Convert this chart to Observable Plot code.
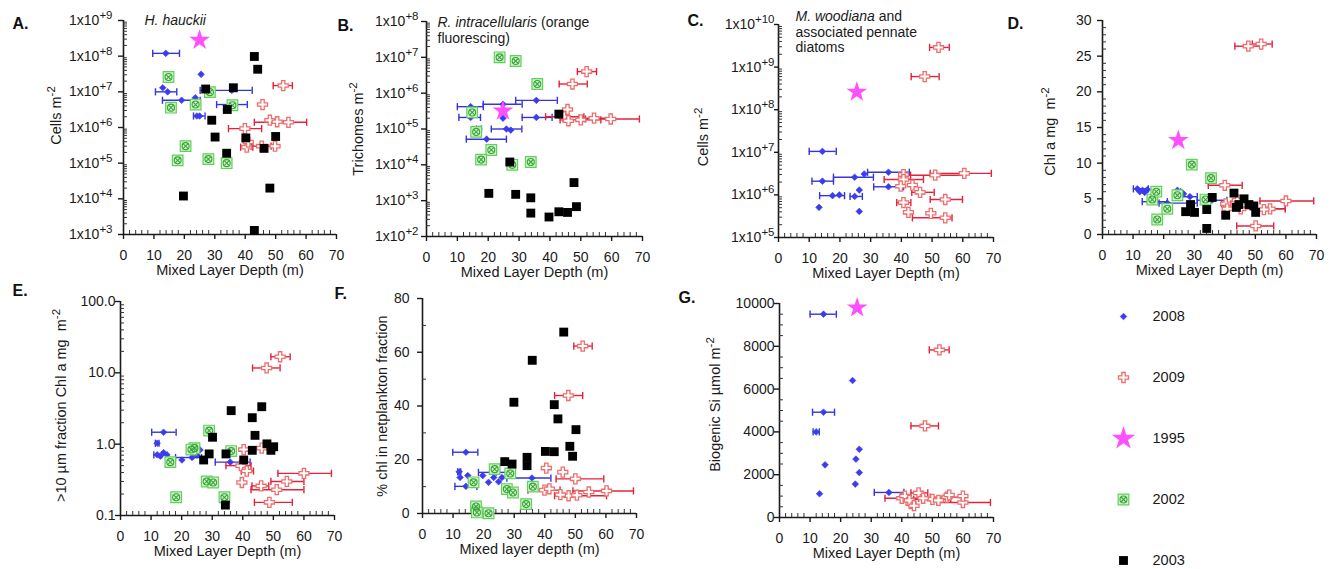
<!DOCTYPE html>
<html><head><meta charset="utf-8">
<script src="https://cdn.jsdelivr.net/npm/d3@7"></script>
<script src="https://cdn.jsdelivr.net/npm/@observablehq/plot@0.6"></script>
<style>
body{margin:0;background:#fff;}
#root{position:relative;width:1334px;height:569px;overflow:hidden;background:#fff;font-family:"Liberation Sans",Arial,sans-serif;}
#root svg{position:absolute;}
</style></head>
<body><div id="root"></div>
<script>
// ---------------- DATA: [mixed layer depth, value, MLD low, MLD high] ----------------
const YEARS = ["2008", "2009", "1995", "2002", "2003"];
const xTicks = [0, 10, 20, 30, 40, 50, 60, 70];
const xMinor = [2, 4, 6, 8, 12, 14, 16, 18, 22, 24, 26, 28, 32, 34, 36, 38, 42, 44, 46, 48, 52, 54, 56, 58, 62, 64, 66, 68];

// A. H. hauckii (cells m-2)
const A2008 = [[13.9,1.2e8,9.6,18.4],[25.5,3.1e7],[12.9,1.3e7],[14.5,1.0e7,10.5,17.5],[35.6,1.1e7,25.2,42.3],[23.6,6.8e6],[19.1,5.8e6,12.8,25.2],[35.7,4.4e6,30.6,40.7],[24.1,2.1e6,23.0,26.8],[25.0,2.1e6]];
const A2009 = [[52.5,1.5e7,49.2,55.5],[45.7,4.4e6],[39.9,9.3e5,34.5,45.4],[54.2,1.4e6,43.0,60.2],[48.1,1.6e6],[50.5,1.45e6],[40.5,2.8e5,38.5,42.5],[45.4,3.0e5,42.0,48.5],[49.8,3.0e5],[41.0,3.9e5]];
const A1995 = [[25,2.8e8]];
const A2002 = [[14.8,2.6e7],[28.4,9.8e6],[15.6,3.6e6],[23.7,4.4e6],[35.8,4.2e6],[20.4,3.0e5],[17.8,1.2e5],[27.9,1.3e5],[33.9,1.0e5]];
const A2003 = [[43,9.8e7],[44.1,4.3e7],[27,1.2e7],[36.1,1.3e7],[34.1,3.2e6],[29,1.6e6],[30.1,5.4e5],[40.2,5.1e5],[50,5.6e5],[46.2,2.6e5],[33.9,1.9e5],[19.7,1.2e4],[48.1,2.0e4],[43,1.3e3]];

// B. R. intracellularis (trichomes m-2)
const B2008 = [[14.3,4.2e5,10,18.4],[35.6,6.3e5,28.9,42.4],[35.6,2.1e5,31,40.7],[14.3,2.1e5,10.5,17.5],[24.8,2.0e5],[24.8,4.9e5,18.4,31],[17,1.0e5,16.2,17.8],[25.9,1.0e5,21,30.9],[27.3,9.3e4],[19.5,5.2e4,12.9,25.9]];
const B2009 = [[51.9,4.0e6,48.9,55.1],[47.3,1.8e6,43,52.1],[45.7,3.5e5],[44.6,2.2e5,38.6,51],[50,1.8e5,43.3,56.5],[54.3,2.0e5,49.5,60],[59.7,1.9e5,51.5,69],[46,1.7e5]];
const B1995 = [[24.8,3.2e5]];
const B2002 = [[23.7,1.0e7],[28.9,7.9e6],[35.9,1.8e6],[14.8,2.9e5],[16.1,8.3e4],[21,2.6e4],[17.7,1.4e4],[33.8,1.2e4],[27.8,1.0e4]];
const B2003 = [[27,1.2e4],[42.9,2.6e5],[47.8,3.2e3],[20.2,1.6e3],[28.9,1.5e3],[33.8,1.2e3],[33.8,450],[39.7,350],[42.9,490],[45.7,470],[48.6,680]];

// C. M. woodiana and associated pennate diatoms (cells m-2)
const C2008 = [[14.3,1.05e7,10,18.8],[14.3,2.1e6,10.9,17.9],[24.8,2.6e6,17.9,30.9],[35.8,3.4e6,29,42.6],[27.9,3.1e6],[35.8,1.55e6,31,40.7],[17.6,9.6e5,13.4,21.5],[19.8,1.0e6],[24.8,9.2e5,23.3,27.3],[26.3,1.3e6],[13.2,5.1e5],[26.3,4.1e5]];
const C2009 = [[52.1,2.9e9,49.2,55.6],[47.6,6.0e8,43.2,52.3],[60.5,3.2e6,49.4,69.3],[51,2.9e6,43,60],[40.7,3.0e6],[40.7,2.3e6,34.4,47.2],[43.6,1.7e6],[46.1,1.15e6,43.4,50.7],[39.8,1.6e6],[40.7,6.6e5,38.5,43.1],[54.3,7.8e5,49.4,59.9],[42.3,3.9e5],[49.6,3.7e5],[54.3,2.9e5,43.6,56.5]];
const C1995 = [[25.5,2.6e8]];

// D. Chl a (mg m-2)
const D2008 = [[11.4,6.4,10.1,15],[12.2,6.0],[13.1,6.2],[13.8,5.9],[14.7,6.3],[24.5,6.2],[25.6,6.0],[26.5,5.7],[28.6,5.3,25.5,31],[16.9,4.6,13,21.2],[21.2,4.4,18.5,31],[35.8,4.8,31,40.7]];
const D2009 = [[51.9,26.7,49,55.5],[47.7,26.4,43.3,52],[40,6.9,34.6,45.7],[60,4.7,51.5,69.1],[54.8,3.6,49.3,59.8],[50.1,1.2,43.9,56],[40.3,4.3,39,42],[44.1,4.8],[45.2,3.6,39.7,59.8],[40.8,3.6],[52.8,3.5]];
const D1995 = [[24.8,13.2]];
const D2002 = [[29.2,9.8],[35.5,7.9],[16.3,4.9],[17.6,6.0],[21.2,3.6],[17.9,2.1],[24.5,5.5],[33.7,4.9]];
const D2003 = [[35.9,5.2],[43,5.8],[46.3,5.0],[44.6,4.2],[43.8,3.8],[47.9,4.2],[49.5,4.0],[50.1,3.1],[40.3,2.7],[34.1,3.5],[28.8,4.2],[30.1,3.1],[27.2,3.2],[34.1,0.85]];

// E. >10 um fraction Chl a (mg m-2)
const E2008 = [[14.1,1.47,10.2,18.2],[12,1.03,11.4,12.6],[12,0.71,10.9,13.5],[14.1,0.76],[15.2,0.71],[13,0.68],[20.1,0.6],[23.4,0.65,18,26.5],[25,0.70],[26,0.83],[35.9,0.56,31,42.4]];
const E2009 = [[52.2,16.8,49.2,55.5],[47.8,11.7,43.2,52.2],[40.3,0.84],[46.2,0.88],[39.4,0.50,34.5,42.7],[41.3,0.42,39.5,43.5],[39.7,0.29],[60,0.39,51.5,69],[54.4,0.30,49.2,60],[46,0.26,43,48.5],[51.1,0.23,42.7,60],[48.7,0.153,43.8,56.2]];
const E2002 = [[29,1.55],[24.2,0.88],[23.2,0.84],[16.3,0.56],[36.2,0.80],[28.2,0.30],[30.3,0.29],[18.2,0.18],[34,0.18]];
const E2003 = [[36.2,2.95],[46.2,3.35],[43.1,2.35],[44,1.33],[30.1,1.25],[47.9,1.01],[50.1,0.92],[49.2,0.82],[43.1,0.82],[34.5,0.73],[29,0.73],[27.2,0.60],[40.3,0.60],[34.3,0.14]];

// F. % chl in netplankton fraction
const F2008 = [[14.2,22.8,9.9,18.1],[12,15.5,11.5,12.5],[12.3,13.4],[14.8,14.1],[14.2,10.1,10.6,17.8],[19.7,14.1],[21.6,11.6],[23.3,13.4],[24.9,11.8],[26,13.4],[24.1,15.3,18.3,27.3],[35.8,13.2,27.6,42]];
const F2009 = [[52.4,62.3,49.5,55.5],[47.7,43.9,43.2,52.4],[40.5,16.9],[45.9,15.4],[50,12.9,43.7,59.3],[39.9,8.7,34.5,45],[41.5,9.2],[60.2,8.4,49.2,69],[54.4,8.0],[47.8,6.6,43.2,60.2],[50.5,6.8],[45.1,7.0]];
const F2002 = [[23.6,16.5],[28.7,14.9],[16.7,11.6],[27.6,9.1],[29.6,7.8],[36.1,10],[33.9,3.5],[17.5,2.6],[17.8,0.4],[21.6,0.1]];
const F2003 = [[46.2,67.5],[35.9,57],[29.9,41.4],[43.1,40.5],[44.3,35.2],[50.2,31.2],[40.2,23.1],[43.1,23],[48.2,25],[49.1,21.3],[34.2,20.9],[34.2,17.8],[26.9,19.3],[29.3,18.4]];

// G. Biogenic Si (umol m-2)
const G2008 = [[14.4,9500,10,18.6],[23.9,6400],[14.4,4920,10.8,18],[12,4000,11,13],[26.1,3190],[25,2730],[26.1,2100],[14.9,2460],[24.8,1560],[13.1,1110],[35.8,1170,31,40.7]];
const G2009 = [[52.3,7830,49,55.5],[47.6,4280,43,52],[40,900,34.5,45.5],[60,700,51.5,69],[54.8,950,49.3,59.8],[50,850,43.9,56],[41,1000],[43,650],[45.5,1150,43,48.5],[42.5,800],[47,900],[52,800],[55.5,1050],[60,1000],[44,550]];
const G1995 = [[25.4,9800]];

// ---------------- STYLE ----------------
const STYLE = {
  "2008": {bar: "#3535dd", fill: "#3b3bf0"},
  "2009": {bar: "#e3233a", stroke: "#ee6e6e"},
  "1995": {fill: "#ff50ff"},
  "2002": {fill: "#d2f4cb", stroke: "#63cf5f", inner: "#38a638"},
  "2003": {fill: "#000"}
};
const AXIS = "#1a1a1a";
const capSym = {draw(ctx, size) { const h = Math.sqrt(size / Math.PI); ctx.moveTo(0, -h); ctx.lineTo(0, h); }};

function markerMarks(year, data, ch, starR = 6.5) {
  const s = STYLE[year];
  switch (year) {
    case "2008": return [Plot.dot(data, {...ch, symbol: "diamond2", r: 3, fill: s.fill, stroke: s.fill, strokeWidth: 0.6})];
    case "2009": return [Plot.dot(data, {...ch, symbol: "cross", r: 4.2, fill: "white", stroke: s.stroke, strokeWidth: 1.3})];
    case "1995": return [Plot.dot(data, {...ch, symbol: "star", r: starR, fill: s.fill, stroke: "none"})];
    case "2002": return [
      Plot.dot(data, {...ch, symbol: "square", r: 6, fill: s.fill, stroke: s.stroke, strokeWidth: 1.2}),
      Plot.dot(data, {...ch, symbol: "circle", r: 3.5, fill: "none", stroke: s.inner, strokeWidth: 1.1}),
      Plot.dot(data, {...ch, symbol: "times", r: 2.4, fill: "none", stroke: s.inner, strokeWidth: 1.1})];
    case "2003": return [Plot.dot(data, {...ch, symbol: "square", r: 5, fill: s.fill, stroke: "none"})];
  }
}

function seriesMarks(year, pts) {
  if (!pts || !pts.length) return [];
  const out = [];
  const bars = pts.filter(d => d.length > 2);
  const s = STYLE[year];
  if (bars.length) {
    out.push(Plot.ruleY(bars, {y: d => d[1], x1: d => d[2], x2: d => d[3], stroke: s.bar, strokeWidth: 1.4}));
    out.push(Plot.dot(bars.flatMap(d => [[d[2], d[1]], [d[3], d[1]]]), {x: d => d[0], y: d => d[1], symbol: capSym, r: 3.6, fill: "none", stroke: s.bar, strokeWidth: 1.4}));
  }
  out.push(...markerMarks(year, pts, {x: d => d[0], y: d => d[1]}));
  return out;
}

const SUPDY = 6;
function richify(svg) {
  const ns = "http://www.w3.org/2000/svg";
  svg.querySelectorAll("text, tspan").forEach(el => {
    if (el.children.length) return;
    const s = el.textContent;
    if (!/\^\{|_/.test(s)) return;
    const re = /\^\{([^}]*)\}|_([^_]+)_/g;
    el.textContent = "";
    let last = 0, m, up = 0;
    const add = (txt, attrs) => {
      const t = document.createElementNS(ns, "tspan");
      t.textContent = txt;
      for (const k in attrs) t.setAttribute(k, attrs[k]);
      el.appendChild(t);
    };
    while ((m = re.exec(s))) {
      if (m.index > last) { add(s.slice(last, m.index), up ? {dy: up} : {}); up = 0; }
      if (m[1] !== undefined) { add(m[1], {dy: -SUPDY, "font-size": "11.5px"}); up = SUPDY; }
      else { add(m[2], Object.assign({"font-style": "italic"}, up ? {dy: up} : {})); up = 0; }
      last = re.lastIndex;
    }
    if (last < s.length) add(s.slice(last), up ? {dy: up} : {});
  });
}

const expFmt = d => `1x10^{+${Math.round(Math.log10(d))}}`;
const decades = (a, b) => d3.range(a, b + 1).map(e => Math.pow(10, e));
const logMinor = (a, b) => d3.range(a, b).flatMap(e => d3.range(2, 10).map(k => k * Math.pow(10, e)));

const panels = [
  {letter: "A.", x0: 123, x70: 336, yTop: 20, yBot: 234, yType: "log", yDomain: [1e3, 1e9], yTicks: decades(3, 9), yFmt: expFmt, yMinor: logMinor(3, 9), yGap: 11,
   title: "_H. hauckii_", tDx: 21, tDy: -7, lDx: -111, lDy: 3, ylabel: "Cells m^{-2}", yDx: -67, yDy: -12, xlabel: "Mixed Layer Depth (m)",
   series: {"2008": A2008, "2009": A2009, "2002": A2002, "1995": A1995, "2003": A2003}},
  {letter: "B.", x0: 426, x70: 642, yTop: 21, yBot: 236, yType: "log", yDomain: [1e2, 1e8], yTicks: decades(2, 8), yFmt: expFmt, yMinor: logMinor(2, 8), yGap: 8,
   title: "_R. intracellularis_ (orange\nfluorescing)", tDx: 11, tDy: -6, lDx: -89, lDy: 4, ylabel: "Trichomes m^{-2}", yDx: -68, yDy: 0, xlabel: "Mixed Layer Depth (m)",
   series: {"2008": B2008, "2009": B2009, "2002": B2002, "1995": B1995, "2003": B2003}},
  {letter: "C.", x0: 778, x70: 993, yTop: 24, yBot: 237, yType: "log", yDomain: [1e5, 1e10], yTicks: decades(5, 10), yFmt: expFmt, yMinor: logMinor(5, 10), yGap: 4,
   title: "_M. woodiana_ and\nassociated pennate\ndiatoms", tDx: 17, tDy: -15, lDx: -91, lDy: -4, ylabel: "Cells m^{-2}", yDx: -75, yDy: 6, xlabel: "Mixed Layer Depth (m)",
   series: {"2008": C2008, "2009": C2009, "1995": C1995}},
  {letter: "D.", x0: 1102, x70: 1316, yTop: 20, yBot: 234, yType: "linear", yDomain: [0, 30], yTicks: d3.range(0, 31, 5), yFmt: d => String(d), yMinor: d3.range(1, 30, 1).filter(v => v % 5), yGap: 11,
   title: "", lDx: -95, lDy: 3, ylabel: "Chl a mg  m^{-2}", yDx: -52, yDy: 4, xlabel: "Mixed Layer Depth (m)",
   series: {"2008": D2008, "2009": D2009, "2002": D2002, "1995": D1995, "2003": D2003}},
  {letter: "E.", x0: 120, x70: 334, yTop: 301, yBot: 515, yType: "log", yDomain: [0.1, 100], yTicks: [0.1, 1, 10, 100], yFmt: d => d.toFixed(1), yMinor: logMinor(-1, 2), yGap: 5,
   title: "", lDx: -108, lDy: -11, ylabel: ">10 µm fraction Chl a mg  m^{-2}", yDx: -59, yDy: -3, xlabel: "Mixed Layer Depth (m)",
   series: {"2008": E2008, "2009": E2009, "2002": E2002, "2003": E2003}},
  {letter: "F.", x0: 422, x70: 636, yTop: 298, yBot: 513, yType: "linear", yDomain: [0, 80], yTicks: d3.range(0, 81, 20), yFmt: d => String(d), yMinor: [10, 30, 50, 70], yGap: 13,
   title: "", lDx: -88, lDy: -5, ylabel: "% chl in netplankton fraction", yDx: -40, yDy: 0, xlabel: "Mixed layer depth (m)",
   series: {"2008": F2008, "2009": F2009, "2002": F2002, "2003": F2003}},
  {letter: "G.", x0: 779, x70: 993, yTop: 303, yBot: 517, yType: "linear", yDomain: [0, 10000], yTicks: d3.range(0, 10001, 2000), yFmt: d => String(d), yMinor: d3.range(500, 10000, 500).filter(v => v % 2000), yGap: 5,
   title: "", lDx: -101, lDy: -6, ylabel: "Biogenic Si µmol m^{-2}", yDx: -64, yDy: -6, xlabel: "Mixed Layer Depth (m)",
   series: {"2008": G2008, "2009": G2009, "1995": G1995}}
];

const root = document.getElementById("root");
const mL = 125, mR = 20, mT = 45, mB = 60;
const ORDER = ["2008", "2009", "2002", "1995", "2003"];
const FONT = "'Liberation Sans', Arial, Helvetica, sans-serif";
const MINOR = 4;

for (const p of panels) {
  const W = p.x70 - p.x0, H = p.yBot - p.yTop;
  const tickLen = Math.min(5, p.yGap);
  const marks = [
    Plot.ruleX([0], {stroke: AXIS, strokeWidth: 1.6}),
    Plot.ruleY([p.yDomain[0]], {stroke: AXIS, strokeWidth: 1.6}),
    // inward minor ticks (axis shifted into the frame by its tick length)
    Plot.axisX({ticks: xMinor, tickSize: MINOR, dy: -MINOR, tickFormat: () => "", stroke: "#333", strokeWidth: 1, label: null}),
    Plot.axisY({ticks: p.yMinor, tickSize: MINOR, dx: MINOR, tickFormat: () => "", stroke: "#333", strokeWidth: 1, label: null}),
    Plot.axisX({ticks: xTicks, tickSize: 5, tickPadding: 11, fontSize: 14, stroke: AXIS, strokeWidth: 1.4, label: null}),
    Plot.axisY({ticks: p.yTicks, tickFormat: p.yFmt, tickSize: tickLen, tickPadding: p.yGap - tickLen, fontSize: 14, stroke: AXIS, strokeWidth: 1.4, label: null}),
    Plot.text([p.xlabel], {text: d => d, frameAnchor: "bottom", dy: 40, fontSize: 14.5, fill: AXIS}),
    Plot.text([p.ylabel], {text: d => d, frameAnchor: "left", rotate: -90, dx: p.yDx, dy: p.yDy, textAnchor: "middle", fontSize: 14.5, fill: AXIS}),
    Plot.text([p.letter], {text: d => d, frameAnchor: "top-left", dx: p.lDx, dy: p.lDy, textAnchor: "start", lineAnchor: "middle", fontSize: 16, fontWeight: "bold", fill: "#111"})
  ];
  if (p.title) marks.push(Plot.text([p.title], {text: d => d, frameAnchor: "top-left", dx: p.tDx, dy: p.tDy, textAnchor: "start", lineAnchor: "top", lineHeight: 1.13, fontSize: 14, fill: AXIS}));
  for (const yr of ORDER) marks.push(...seriesMarks(yr, p.series[yr]));
  const svg = Plot.plot({
    width: W + mL + mR, height: H + mT + mB,
    marginLeft: mL, marginRight: mR, marginTop: mT, marginBottom: mB,
    x: {domain: [0, 70]},
    y: {type: p.yType, domain: p.yDomain},
    style: {background: "transparent", overflow: "visible", fontFamily: FONT, fontSize: "14px", color: AXIS},
    marks
  });
  richify(svg);
  svg.style.left = (p.x0 - mL) + "px";
  svg.style.top = (p.yTop - mT) + "px";
  root.appendChild(svg);
}

// Legend
const legend = Plot.plot({
  width: 130, height: 300, marginLeft: 23, marginTop: 30, marginBottom: 25, marginRight: 10,
  y: {type: "point", domain: YEARS, padding: 0, axis: null},
  style: {background: "transparent", overflow: "visible", fontFamily: FONT, fontSize: "14px", color: AXIS},
  marks: [
    ...YEARS.flatMap(yr => markerMarks(yr, [yr], {y: d => d, frameAnchor: "left"}, 7.4)),
    Plot.text(YEARS, {y: d => d, text: d => d, frameAnchor: "left", dx: 29, textAnchor: "start", fontSize: 14.5, fill: AXIS})
  ]
});
legend.style.left = "1100px";
legend.style.top = "285px";
root.appendChild(legend);
</script>
</body></html>
